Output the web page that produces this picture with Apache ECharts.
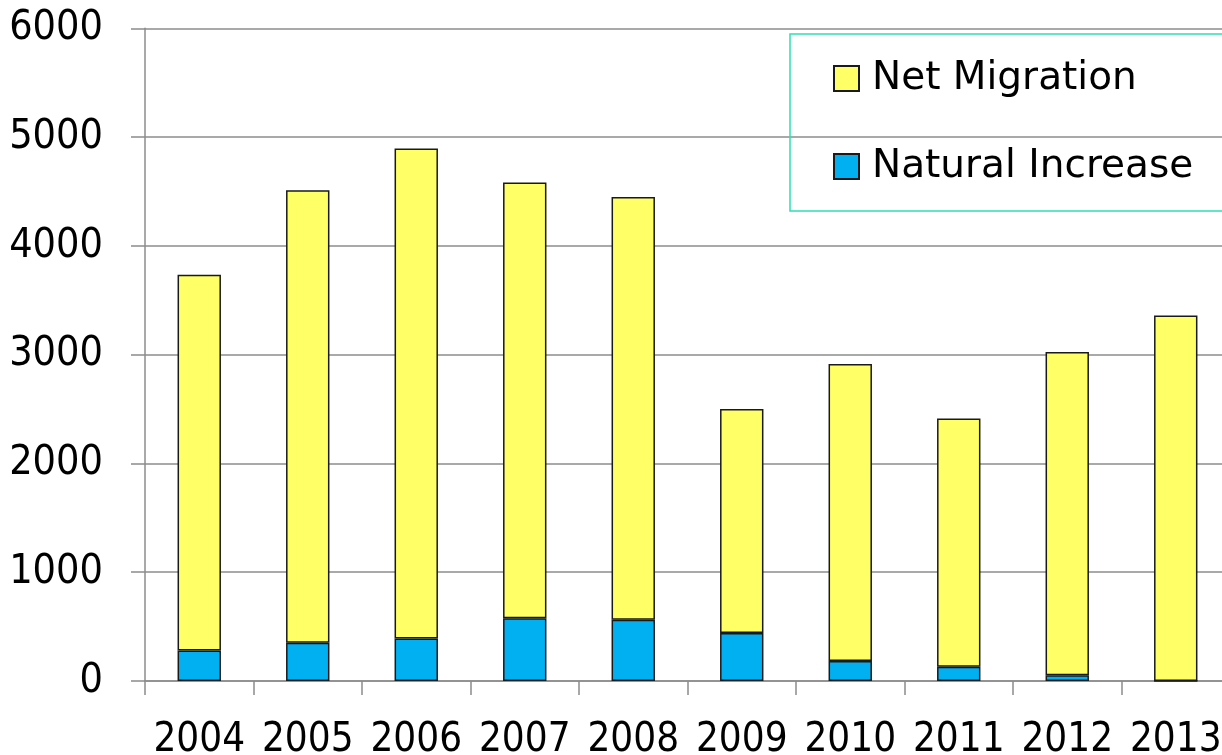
<!DOCTYPE html>
<html>
<head>
<meta charset="utf-8">
<script src="https://cdn.jsdelivr.net/npm/echarts@6/dist/echarts.min.js"></script>
<style>
  html, body { margin: 0; padding: 0; background: #fff; }
  #chart { width: 1222px; height: 755px; }
</style>
</head>
<body>
<div id="chart"></div>
<script>
var years = ['2004', '2005', '2006', '2007', '2008', '2009', '2010', '2011', '2012', '2013'];
var naturalIncrease = [280, 351, 390, 577, 562, 441, 184, 132, 52, 0];
var netMigration = [3455, 4160, 4505, 4005, 3888, 2059, 2730, 2282, 2972, 3360];

var font = 'DejaVu Sans Condensed';
var myChart = echarts.init(document.getElementById('chart'));
var option = {
  animation: false,
  textStyle: { fontFamily: font },
  grid: { left: 145, right: -8, top: 28.3, bottom: 74, outerBoundsMode: 'none' },
  legend: {
    orient: 'vertical',
    left: 790,
    top: 34,
    padding: [25, 60, 25, 43],
    itemGap: 49,
    itemWidth: 25,
    itemHeight: 25,
    borderColor: '#2ee0b4',
    borderWidth: 1.5,
    textStyle: { fontFamily: 'DejaVu Sans', fontSize: 39, color: '#000', padding: [0, 0, 0, 8] },
    data: [
      { name: 'Net Migration', icon: 'rect' },
      { name: 'Natural Increase', icon: 'rect' }
    ]
  },
  xAxis: {
    type: 'category',
    data: years,
    axisLine: { lineStyle: { color: '#8c8c8c', width: 1.5 } },
    axisTick: { show: true, length: 14, lineStyle: { color: '#8c8c8c', width: 1.5 } },
    axisLabel: { fontFamily: font, fontSize: 40, color: '#000', margin: 40, interval: 0 }
  },
  yAxis: {
    type: 'value',
    min: 0,
    max: 6000,
    interval: 1000,
    axisLine: { show: true, lineStyle: { color: '#8c8c8c', width: 1.5 } },
    axisTick: { show: true, length: 14, lineStyle: { color: '#8c8c8c', width: 1.5 } },
    splitLine: { lineStyle: { color: '#8c8c8c', width: 1.5 } },
    axisLabel: { fontFamily: font, fontSize: 41, color: '#000', margin: 42, formatter: function (v) { return String(v); } }
  },
  series: [
    {
      name: 'Natural Increase',
      type: 'bar',
      stack: 'total',
      barWidth: '40%',
      itemStyle: { color: '#00b0f0', borderColor: '#1a1a1a', borderWidth: 1.5 },
      data: naturalIncrease
    },
    {
      name: 'Net Migration',
      type: 'bar',
      stack: 'total',
      barWidth: '40%',
      itemStyle: { color: '#ffff66', borderColor: '#1a1a1a', borderWidth: 1.5 },
      data: netMigration
    }
  ]
};
myChart.setOption(option);
</script>
</body>
</html>
